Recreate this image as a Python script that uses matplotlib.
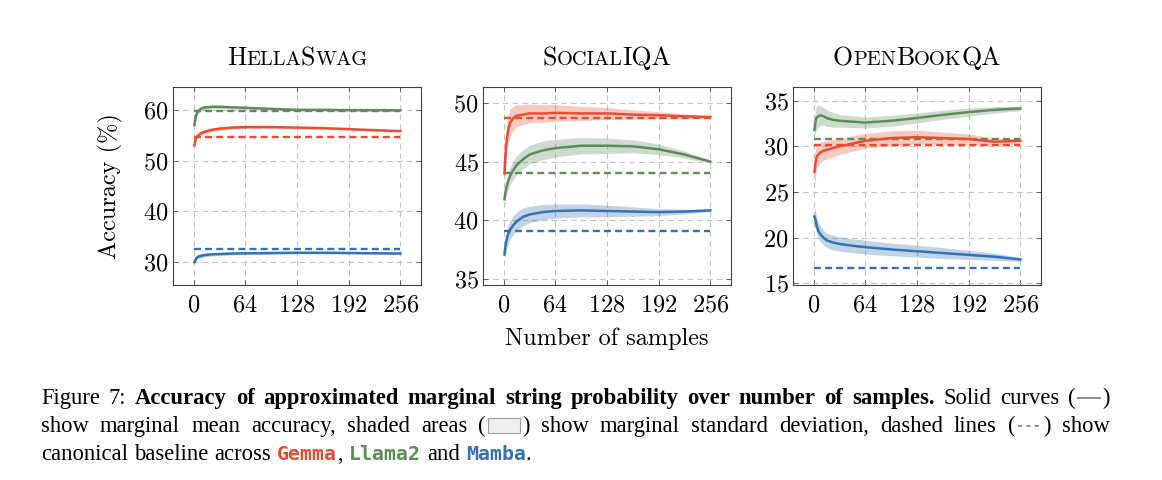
import numpy as np
import matplotlib
matplotlib.use('Agg')
import matplotlib.pyplot as plt
from matplotlib.offsetbox import TextArea, HPacker, DrawingArea, AnchoredOffsetbox
from matplotlib.lines import Line2D
from matplotlib.patches import Rectangle

plt.rcParams['font.family'] = 'cmr10'
plt.rcParams['axes.formatter.use_mathtext'] = True
plt.rcParams['lines.scale_dashes'] = False

# Data
samples = [1, 2, 3, 4, 6, 8, 12, 16, 24, 32, 48, 64, 96, 128, 160, 192, 224, 256]
models = ['Gemma', 'Llama2', 'Mamba']
colors = {'Gemma': '#ea4c32', 'Llama2': '#5f8c5a', 'Mamba': '#3472b2'}

# HellaSwag
hs_mean = {
    'Gemma': [53.0, 53.9, 54.4, 54.7, 55.0, 55.3, 55.6, 55.8, 56.1, 56.3, 56.5, 56.6, 56.6, 56.5, 56.4, 56.2, 56.0, 55.8],
    'Llama2': [57.0, 58.2, 58.9, 59.3, 59.8, 60.1, 60.4, 60.5, 60.6, 60.6, 60.5, 60.4, 60.2, 60.0, 60.0, 59.95, 59.95, 59.9],
    'Mamba': [30.0, 30.4, 30.7, 30.9, 31.1, 31.2, 31.35, 31.45, 31.55, 31.6, 31.7, 31.75, 31.8, 31.85, 31.85, 31.8, 31.75, 31.7],
}
hs_std = {
    'Gemma': [0.6, 0.55, 0.5, 0.5, 0.45, 0.45, 0.4, 0.4, 0.35, 0.35, 0.3, 0.3, 0.25, 0.25, 0.2, 0.2, 0.15, 0.1],
    'Llama2': [0.6, 0.55, 0.5, 0.5, 0.45, 0.45, 0.4, 0.4, 0.35, 0.35, 0.3, 0.3, 0.25, 0.25, 0.2, 0.2, 0.15, 0.1],
    'Mamba': [0.5, 0.5, 0.45, 0.45, 0.4, 0.4, 0.35, 0.35, 0.3, 0.3, 0.3, 0.25, 0.25, 0.2, 0.2, 0.15, 0.15, 0.1],
}
hs_base = {'Gemma': 54.75, 'Llama2': 59.8, 'Mamba': 32.5}

# SocialIQA
siqa_mean = {
    'Gemma': [44.0, 45.3, 46.3, 47.0, 47.8, 48.3, 48.7, 48.9, 49.0, 49.1, 49.1, 49.15, 49.1, 49.1, 49.0, 48.95, 48.85, 48.8],
    'Llama2': [41.8, 42.3, 42.7, 43.0, 43.4, 43.8, 44.3, 44.7, 45.2, 45.6, 45.95, 46.15, 46.35, 46.35, 46.3, 46.05, 45.6, 45.0],
    'Mamba': [37.1, 37.7, 38.1, 38.5, 38.9, 39.2, 39.6, 39.9, 40.3, 40.5, 40.7, 40.8, 40.85, 40.8, 40.75, 40.7, 40.75, 40.85],
}
siqa_std = {
    'Gemma': [1.4, 1.4, 1.35, 1.3, 1.25, 1.2, 1.0, 0.95, 0.85, 0.8, 0.75, 0.7, 0.6, 0.5, 0.4, 0.3, 0.2, 0.1],
    'Llama2': [0.6, 0.65, 0.7, 0.7, 0.75, 0.75, 0.8, 0.8, 0.8, 0.8, 0.8, 0.75, 0.7, 0.65, 0.55, 0.45, 0.3, 0.1],
    'Mamba': [0.6, 0.7, 0.75, 0.8, 0.8, 0.8, 0.8, 0.8, 0.75, 0.7, 0.65, 0.6, 0.55, 0.5, 0.4, 0.3, 0.2, 0.1],
}
siqa_base = {'Gemma': 48.67, 'Llama2': 44.06, 'Mamba': 39.07}

# OpenBookQA
obqa_mean = {
    'Gemma': [27.2, 28.0, 28.5, 28.9, 29.1, 29.3, 29.5, 29.6, 29.8, 30.0, 30.3, 30.6, 30.9, 31.0, 30.9, 30.8, 30.5, 30.6],
    'Llama2': [31.8, 32.6, 33.0, 33.2, 33.3, 33.4, 33.3, 33.1, 32.9, 32.8, 32.7, 32.6, 32.8, 33.1, 33.45, 33.75, 34.0, 34.15],
    'Mamba': [22.3, 22.0, 21.6, 21.2, 20.7, 20.4, 20.0, 19.7, 19.45, 19.3, 19.1, 18.95, 18.7, 18.5, 18.3, 18.1, 17.9, 17.6],
}
obqa_std = {
    'Gemma': [1.8, 1.6, 1.4, 1.3, 1.2, 1.1, 1.0, 1.0, 0.95, 0.9, 0.85, 0.8, 0.8, 0.75, 0.65, 0.55, 0.4, 0.25],
    'Llama2': [1.0, 1.2, 1.3, 1.3, 1.2, 1.1, 1.0, 0.9, 0.8, 0.7, 0.65, 0.6, 0.6, 0.55, 0.5, 0.45, 0.35, 0.25],
    'Mamba': [1.0, 1.0, 0.95, 0.9, 0.9, 0.85, 0.8, 0.8, 0.8, 0.8, 0.75, 0.75, 0.7, 0.65, 0.6, 0.5, 0.4, 0.2],
}
obqa_base = {'Gemma': 30.17, 'Llama2': 30.8, 'Mamba': 16.65}

xticks = [0, 64, 128, 192, 256]
panels = [
    # (title pieces for small caps, mean, std, baseline, ylim, yticks)
    ([('H', 1), ('ELLA', 0), ('S', 1), ('WAG', 0)], hs_mean, hs_std, hs_base, (25.5, 64.5), [30, 40, 50, 60]),
    ([('S', 1), ('OCIAL', 0), ('IQA', 1)], siqa_mean, siqa_std, siqa_base, (34.5, 51.35), [35, 40, 45, 50]),
    ([('O', 1), ('PEN', 0), ('B', 1), ('OOK', 0), ('QA', 1)], obqa_mean, obqa_std, obqa_base, (14.8, 36.5), [15, 20, 25, 30, 35]),
]

W, H = 1162, 480
fig = plt.figure(figsize=(W / 100, H / 100), dpi=100)
lefts = [173, 483, 793]
axes = []
for i, (title, mean, std, base, ylim, yticks) in enumerate(panels):
    ax = fig.add_axes([lefts[i] / W, (H - 285) / H, 248 / W, 198 / H])
    axes.append(ax)
    x = np.array(samples)
    for m in models:
        mu = np.array(mean[m])
        sd = np.array(std[m])
        ax.fill_between(x, mu - sd, mu + sd, color=colors[m], alpha=0.3, lw=0, zorder=2)
    for m in models:
        ax.plot(x, mean[m], color=colors[m], lw=1.8, zorder=4)
        ax.plot([0, 256], [base[m], base[m]], color=colors[m], lw=1.7,
                dashes=(5, 3), zorder=3)
    ax.set_xlim(-25.6, 281.6)
    ax.set_ylim(*ylim)
    ax.set_xticks(xticks)
    ax.set_yticks(yticks)
    ax.grid(True, color='#c4c4c4', lw=0.8, ls=(0, (4, 3)), zorder=0)
    ax.set_axisbelow(True)
    ax.tick_params(direction='in', top=True, right=True, length=3.5, width=0.6,
                   color='#505050', labelsize=17.5)
    ax.tick_params(axis='x', pad=7)
    ax.tick_params(axis='y', pad=3)
    for s in ax.spines.values():
        s.set_color('#404040')
        s.set_linewidth(0.8)

    # small caps title
    parts = [TextArea(t, textprops=dict(family='cmr10', size=18.6 if big else 14.7, color='black'))
             for t, big in title]
    box = AnchoredOffsetbox(loc='lower center', child=HPacker(children=parts, align='baseline', sep=0, pad=0),
                            bbox_to_anchor=(0.5, 1.085), bbox_transform=ax.transAxes,
                            frameon=False, pad=0, borderpad=0)
    ax.add_artist(box)

axes[0].set_ylabel('Accuracy (%)', fontsize=17.5)
axes[0].yaxis.set_label_coords(-0.203, 0.5)
axes[1].set_xlabel('Number of samples', fontsize=17.5)
axes[1].xaxis.set_label_coords(0.5, -0.215)

# Caption
cap = dict(family='Liberation Serif', size=16.3, color='black')
capb = dict(cap, weight='bold')


def word(s, props=cap):
    return TextArea(s, textprops=props)


def paren(icon):
    return HPacker(children=[word('('), icon, word(')')], align='baseline', sep=0.6, pad=0)


solid_icon = DrawingArea(18, 10, 0, 0)
solid_icon.add_artist(Line2D([1, 17], [4.3, 4.3], color='#8a8a8a', lw=1.4))
shade_icon = DrawingArea(25, 11, 0, 1)
shade_icon.add_artist(Rectangle((1, -1), 23, 11, facecolor='#efefef', edgecolor='#a0a0a0', lw=0.8))
dash_icon = DrawingArea(19, 10, 0, 0)
dash_icon.add_artist(Line2D([1.5, 17.5], [4.3, 4.3], color='#8a8a8a', lw=1.3, dashes=(3, 3)))

line1 = [word('Figure'), word('7:')] + \
    [word(w, capb) for w in 'Accuracy of approximated marginal string probability over number of samples.'.split()] + \
    [word('Solid'), word('curves'), paren(solid_icon)]
line2 = [word(w) for w in 'show marginal mean accuracy, shaded areas'.split()] + [paren(shade_icon)] + \
    [word(w) for w in 'show marginal standard deviation, dashed lines'.split()] + [paren(dash_icon), word('show')]


def mono(s, m):
    return TextArea(s, textprops=dict(family='DejaVu Sans Mono', weight='bold', size=14.3, color=colors[m]))


line3 = [word('canonical'), word('baseline'), word('across'),
         HPacker(children=[mono('Gemma', 'Gemma'), word(',')], align='baseline', sep=0, pad=0),
         mono('Llama2', 'Llama2'), word('and'),
         HPacker(children=[mono('Mamba', 'Mamba'), word('.')], align='baseline', sep=0, pad=0)]

rows = [
    HPacker(children=line1, align='baseline', mode='expand', width=1069, sep=0, pad=0),
    HPacker(children=line2, align='baseline', mode='expand', width=1069, sep=0, pad=0),
    HPacker(children=line3, align='baseline', sep=4.4, pad=0),
]
baselines = [405, 433, 461]
for row, b in zip(rows, baselines):
    fig.add_artist(AnchoredOffsetbox(loc='lower left', child=row, bbox_to_anchor=(41 / W, (H - b - 4) / H),
                                     bbox_transform=fig.transFigure, frameon=False, pad=0, borderpad=0))

fig.savefig('out.png', dpi=100)
